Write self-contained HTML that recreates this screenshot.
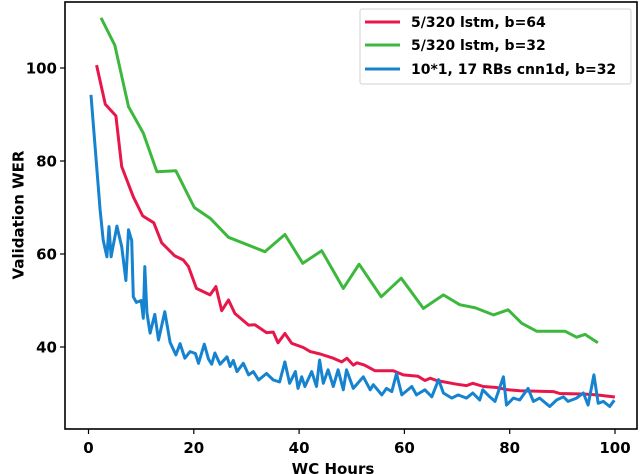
<!DOCTYPE html>
<html><head><meta charset="utf-8"><style>
html,body{margin:0;padding:0;background:#fff;}
svg{display:block;font-family:"DejaVu Sans","Liberation Sans",sans-serif;font-weight:bold;}
</style></head><body>
<svg id="chart" width="640" height="474" viewBox="0 0 640 474" xmlns="http://www.w3.org/2000/svg">
<rect x="0" y="0" width="640" height="474" fill="#fff"/>
<g id="plot"></g>
<g id="axes"></g>
<text x="333" y="474" font-size="15" text-anchor="middle">WC Hours</text>
<text transform="translate(19,215) rotate(-90)" font-size="15" text-anchor="middle" dominant-baseline="middle">Validation WER</text>
<g id="legend">
<rect x="360" y="9" width="271" height="75" rx="2" fill="#fff" stroke="#d0d0d0" stroke-width="1"/>
</g>
</svg>
<script>
const xTicks=[0,20,40,60,80,100];
const yTicks=[40,60,80,100];
const seriesNames=["5/320 lstm, b=64","5/320 lstm, b=32","10*1, 17 RBs cnn1d, b=32"];
const seriesColors=["#e8174a","#3cb93c","#1583cf"];
const redX=[1.6,3.2,5.2,6.3,8.5,10.3,12.4,13.9,16.4,18,19,20.5,23.1,24.2,25.3,26.6,27.8,30.4,31.6,33.8,35.1,36,37.3,38.6,40.8,42.1,44,46.5,48.1,49.1,50.3,51,52.4,54.4,57.9,59.8,62.6,63.9,64.9,66.1,69.9,71.8,73,75,77.5,79.7,81.9,88.3,89.5,94,96.5,99.7];
const redY=[100.3,92.2,89.7,78.8,72.3,68.2,66.7,62.4,59.6,58.7,57.3,52.6,51.2,53,47.8,50.1,47.2,44.7,44.8,43.1,43.2,40.9,42.9,40.8,39.9,39,38.5,37.6,36.8,37.6,36.1,36.6,36.1,34.9,34.9,34,33.7,32.8,33.3,32.8,32,31.7,32.2,31.5,31.3,30.8,30.6,30.4,30,29.9,29.7,29.3];
const greenX=[2.5,5,7.6,10.4,13,16.6,20.1,23.1,26.6,33.5,37.3,40.7,44.3,48.4,51.4,55.6,59.4,63.6,67.4,70.5,73.5,76.9,79.7,82.3,85.1,90.5,92.7,94.3,96.5];
const greenY=[110.5,104.9,91.7,86,77.7,77.9,70,67.7,63.6,60.5,64.2,58,60.7,52.6,57.8,50.8,54.8,48.3,51.2,49.1,48.4,46.9,48,45.1,43.4,43.4,42.1,42.7,41.1];
const blueX=[0.5,2.2,2.8,3.5,3.9,4.3,5.4,6.3,7.1,7.6,8.2,8.5,9.1,10,10.4,10.7,11.1,11.7,12.6,13.3,14.5,15.5,16.6,17.4,18.3,19.3,20.3,20.9,22,22.8,23.4,24,25,26.3,26.9,27.5,28.2,29.4,30.4,31.3,32.3,33.8,35.1,36.3,37.3,38.2,39.3,39.8,40.5,41.1,42.4,43.3,43.9,44.6,45.5,46.5,47.4,48.4,49,50.3,52.2,53.5,54.1,55.7,56.6,57.6,58.5,59.5,61.4,62.3,63.9,65.2,66.5,67.4,69,70.2,71.8,73,74.3,74.9,76.2,77.2,78.8,79.4,80.7,81.9,83.5,84.5,85.7,87.6,88.9,90.2,91.1,92.7,94,94.9,96,96.8,97.8,99,99.7];
const blueY=[93.9,69.5,63,59.4,65.9,59.4,66,61.6,54.3,65.2,62.9,50.8,49.6,50,46.2,57.3,47.4,43,47,41.5,47.6,41,38.3,40.7,37.6,39,38.6,36.5,40.6,37.4,36.3,38.7,36.3,37.9,35.8,37.1,34.7,36.5,34,34.7,32.9,34.3,32.9,32.5,36.8,32.2,34.7,31.1,33.6,31.5,34.7,31.5,37.2,32.2,35.1,31.5,35.1,30.8,35.1,31.1,33.6,30.8,31.9,29.7,31.1,30.4,34.3,29.7,31.5,29.7,30.8,29.3,33,30.1,29,29.7,29,30.1,28.6,30.8,29.3,28.3,33.6,27.5,29,28.6,31.1,28.3,29,27.2,28.6,29.3,28.3,29,30.1,27.5,34,27.9,28.3,27.2,28.3];

const L=65,R=637,T=2,B=429;
function xs(v){return 88.5+v*5.265;}
function ys(v){return 347-(v-40)*4.65;}
const NS="http://www.w3.org/2000/svg";
const plot=document.getElementById('plot'),axes=document.getElementById('axes'),legend=document.getElementById('legend');
function mk(t,a,p){const e=document.createElementNS(NS,t);for(const k in a)e.setAttribute(k,a[k]);p.appendChild(e);return e;}
const data=[[redX,redY],[greenX,greenY],[blueX,blueY]];
const lineNames=['line-lstm-b64','line-lstm-b32','line-cnn1d-b32'];
for(let s=0;s<3;s++){
  const [X,Y]=data[s];
  const d=X.map((x,i)=>(i?'L':'M')+xs(x).toFixed(1)+','+ys(Y[i]).toFixed(1)).join(' ');
  const p=mk('path',{d:d,fill:'none',stroke:seriesColors[s],'stroke-width':3,'stroke-linejoin':'round','stroke-linecap':'square'},plot);
  
  
}
const frame=mk('rect',{x:L,y:T,width:R-L,height:B-T,fill:'none',stroke:'#000','stroke-width':1.6},axes);


xTicks.forEach(v=>{
  const x=xs(v);
  const t=mk('line',{x1:x,x2:x,y1:B,y2:B+5,stroke:'#000','stroke-width':1.2},axes);
  
  
  const l=mk('text',{x:x,y:453,'font-size':15,'text-anchor':'middle'},axes);
  l.textContent=v;
  
  
});
yTicks.forEach(v=>{
  const y=ys(v);
  const t=mk('line',{x1:L-5,x2:L,y1:y,y2:y,stroke:'#000','stroke-width':1.2},axes);
  
  
  const l=mk('text',{x:L-8,y:y+5.5,'font-size':15,'text-anchor':'end'},axes);
  l.textContent=v;
  
  
});
const legY=[22,45,69];
for(let s=0;s<3;s++){
  const ln=mk('line',{x1:365,x2:400,y1:legY[s],y2:legY[s],stroke:seriesColors[s],'stroke-width':3},legend);
  
  
  const tx=mk('text',{x:411,y:legY[s]+5,'font-size':14},legend);
  tx.textContent=seriesNames[s];
  
  
}
</script>
</body></html>
